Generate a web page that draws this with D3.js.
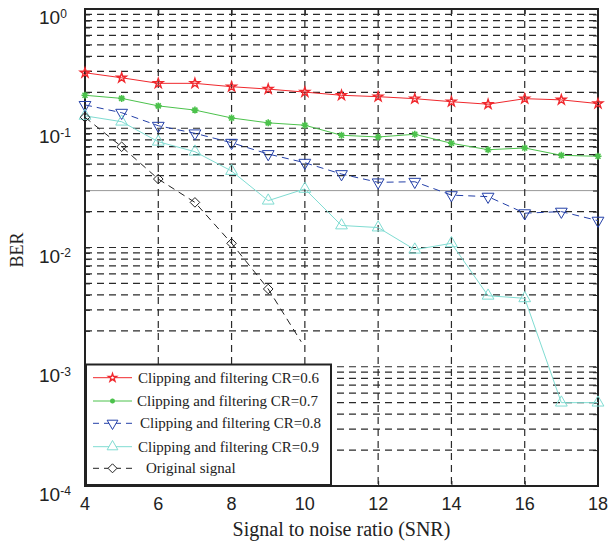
<!DOCTYPE html>
<head>
<meta charset="utf-8">
<script src="https://d3js.org/d3.v7.min.js"></script>
<style>
  body { margin: 0; background: #fff; }
  text { fill: #222; }
</style>
</head>
<body>
<svg width="609" height="547"></svg>
<script>
// values
var snr = [4, 5, 6, 7, 8, 9, 10, 11, 12, 13, 14, 15, 16, 17, 18];
var ber06 = [0.292, 0.265, 0.238, 0.238, 0.223, 0.213, 0.201, 0.189, 0.184, 0.177, 0.167, 0.159, 0.177, 0.173, 0.161];
var ber07 = [0.189, 0.178, 0.154, 0.142, 0.122, 0.111, 0.106, 0.0873, 0.0845, 0.089, 0.0748, 0.0661, 0.0683, 0.0593, 0.0582];
var ber08 = [0.157, 0.135, 0.105, 0.0907, 0.0756, 0.0608, 0.0514, 0.0413, 0.0352, 0.0356, 0.0275, 0.0267, 0.0194, 0.0200, 0.0168];
var ber09 = [0.127, 0.1135, 0.0771, 0.0636, 0.0438, 0.0247, 0.0310, 0.0153, 0.0147, 0.00959, 0.01084, 0.00394, 0.00375, 0.00050, 0.00050];
// original signal: the line stops just short of 10 dB (no marker there)
var origSnr = [4, 5, 6, 7, 8, 9, 9.9];
var origBer = [0.1236, 0.070, 0.0375, 0.0239, 0.01084, 0.00449, 0.00162];

var xTicks = [4, 6, 8, 10, 12, 14, 16, 18];
var yDecades = [1, 0.1, 0.01, 0.001, 0.0001];
var yExp = ["0", "-1", "-2", "-3", "-4"];
var legendLabels = ["Clipping and filtering CR=0.6", "Clipping and filtering CR=0.7",
                    "Clipping and filtering CR=0.8", "Clipping and filtering CR=0.9", "Original signal"];

var svg = d3.select("svg");
// note: "top" is taken by window.top, so use px* names
var pxL = 85, pxR = 598, pxT = 9, pxB = 486;

var x = d3.scaleLinear().domain([4, 18]).range([pxL, pxR]);
var y = d3.scaleLog().domain([1e-4, 1]).range([pxB, pxT]);

var sans = "'Liberation Sans', Arial, sans-serif";
var serif = "'Liberation Serif', 'Times New Roman', serif";

// grid
var g = svg.append("g");
y.ticks().forEach(function(v) {
  if (v >= 1 || v <= 1e-4) return;
  var special = Math.abs(v - 0.03) < 1e-6;   // this one is drawn solid grey in the original
  g.append("line")
    .attr("x1", pxL).attr("x2", pxR)
    .attr("y1", y(v)).attr("y2", y(v))
    .attr("stroke", special ? "#999" : "#2a2a2a")
    .attr("stroke-width", special ? 1 : 1.2)
    .attr("stroke-dasharray", special ? null : "7,5");
});
xTicks.slice(1, -1).forEach(function(v) {
  g.append("line")
    .attr("x1", x(v)).attr("x2", x(v))
    .attr("y1", pxT).attr("y2", pxB)
    .attr("stroke", "#2a2a2a")
    .attr("stroke-width", 1.2)
    .attr("stroke-dasharray", "7,5");
});

// axes (ticks on all four sides, labels drawn by hand)
svg.append("g").attr("transform", "translate(0," + pxB + ")")
  .call(d3.axisBottom(x).tickValues(xTicks).tickSizeInner(-5).tickSizeOuter(0).tickFormat(""));
svg.append("g").attr("transform", "translate(0," + pxT + ")")
  .call(d3.axisTop(x).tickValues(xTicks).tickSizeInner(-5).tickSizeOuter(0).tickFormat(""));
svg.append("g").attr("transform", "translate(" + pxL + ",0)")
  .call(d3.axisLeft(y).tickSizeInner(-5).tickSizeOuter(0).tickFormat(""));
svg.append("g").attr("transform", "translate(" + pxR + ",0)")
  .call(d3.axisRight(y).tickSizeInner(-5).tickSizeOuter(0).tickFormat(""));
svg.selectAll(".domain").remove();
svg.selectAll(".tick line").attr("stroke", "#222");

svg.append("rect")
  .attr("x", pxL).attr("y", pxT)
  .attr("width", pxR - pxL).attr("height", pxB - pxT)
  .attr("fill", "none").attr("stroke", "#222").attr("stroke-width", 2);

// tick labels
xTicks.forEach(function(v) {
  svg.append("text").attr("x", x(v)).attr("y", 509.5)
    .attr("text-anchor", "middle")
    .style("font-family", sans).style("font-size", "18px")
    .text(v);
});
yDecades.forEach(function(v, i) {
  var t = svg.append("text").attr("x", 39).attr("y", y(v) + 15)
    .style("font-family", sans).style("font-size", "19px");
  t.append("tspan").text("10");
  t.append("tspan").attr("dy", -6).style("font-size", "12px").text(yExp[i]);
});

// axis titles
svg.append("text")
  .attr("transform", "translate(23,250) rotate(-90)")
  .attr("text-anchor", "middle")
  .style("font-family", serif).style("font-size", "18px")
  .text("BER");
svg.append("text")
  .attr("x", (pxL + pxR) / 2).attr("y", 536)
  .attr("text-anchor", "middle")
  .style("font-family", serif).style("font-size", "20px")
  .text("Signal to noise ratio (SNR)");

// marker shapes
var markers = {
  star: d3.symbol().type(d3.symbolStar).size(28)(),
  asterisk: "M-3.5,0H3.5M0,-3.5V3.5M-2.5,-2.5L2.5,2.5M-2.5,2.5L2.5,-2.5",
  tri: d3.symbol().type(d3.symbolTriangle).size(60)(),
  diamond: "M0,-4.8L4.8,0L0,4.8L-4.8,0Z"
};
var smallMarkers = {
  star: d3.symbol().type(d3.symbolStar).size(20)(),
  asterisk: "M-2.5,0H2.5M0,-2.5V2.5M-1.8,-1.8L1.8,1.8M-1.8,1.8L1.8,-1.8",
  tri: d3.symbol().type(d3.symbolTriangle).size(50)(),
  diamond: "M0,-4.5L4.5,0L0,4.5L-4.5,0Z"
};

var series = [
  { xs: snr, ys: ber06, color: "#f0282d", dash: null, marker: "star", rot: 0, width: 1.4 },
  { xs: snr, ys: ber07, color: "#4cc24c", dash: null, marker: "asterisk", rot: 0, width: 1.6 },
  { xs: snr, ys: ber08, color: "#2440a8", dash: "7,5", marker: "tri", rot: 180, width: 1 },
  { xs: snr, ys: ber09, color: "#7fdcd2", dash: null, marker: "tri", rot: 0, width: 1 },
  { xs: origSnr.slice(0, 6), ys: origBer, color: "#222", dash: "7,5", marker: "diamond", rot: 0, width: 1, lineXs: origSnr }
];

var line = d3.line();
series.forEach(function(s) {
  var lx = s.lineXs || s.xs;
  var pts = lx.map(function(v, i) { return [x(v), y(s.ys[i])]; });
  svg.append("path")
    .attr("d", line(pts))
    .attr("fill", "none")
    .attr("stroke", s.color)
    .attr("stroke-width", 1)
    .attr("stroke-dasharray", s.dash);
  s.xs.forEach(function(v, i) {
    svg.append("path")
      .attr("d", markers[s.marker])
      .attr("transform", "translate(" + x(v) + "," + y(s.ys[i]) + ") rotate(" + s.rot + ")")
      .attr("fill", "none")
      .attr("stroke", s.color)
      .attr("stroke-width", s.width);
  });
});

// legend
var lg = svg.append("g");
lg.append("rect")
  .attr("x", 86).attr("y", 364.5).attr("width", 245).attr("height", 120.5)
  .attr("fill", "#fff").attr("stroke", "#222").attr("stroke-width", 2);
var rowY = [377.7, 401, 423.3, 446.7, 468.3];
var textX = [138, 137, 140, 138, 146];
series.forEach(function(s, i) {
  lg.append("line")
    .attr("x1", 93).attr("x2", 132)
    .attr("y1", rowY[i]).attr("y2", rowY[i])
    .attr("stroke", s.color)
    .attr("stroke-dasharray", s.dash ? "6,5" : null);
  lg.append("path")
    .attr("d", smallMarkers[s.marker])
    .attr("transform", "translate(112.5," + rowY[i] + ") rotate(" + s.rot + ")")
    .attr("fill", "#fff")
    .attr("stroke", s.color)
    .attr("stroke-width", s.width);
  lg.append("text")
    .attr("x", textX[i]).attr("y", rowY[i] + 5)
    .style("font-family", serif).style("font-size", "15px")
    .text(legendLabels[i]);
});
</script>
</body>
</html>
